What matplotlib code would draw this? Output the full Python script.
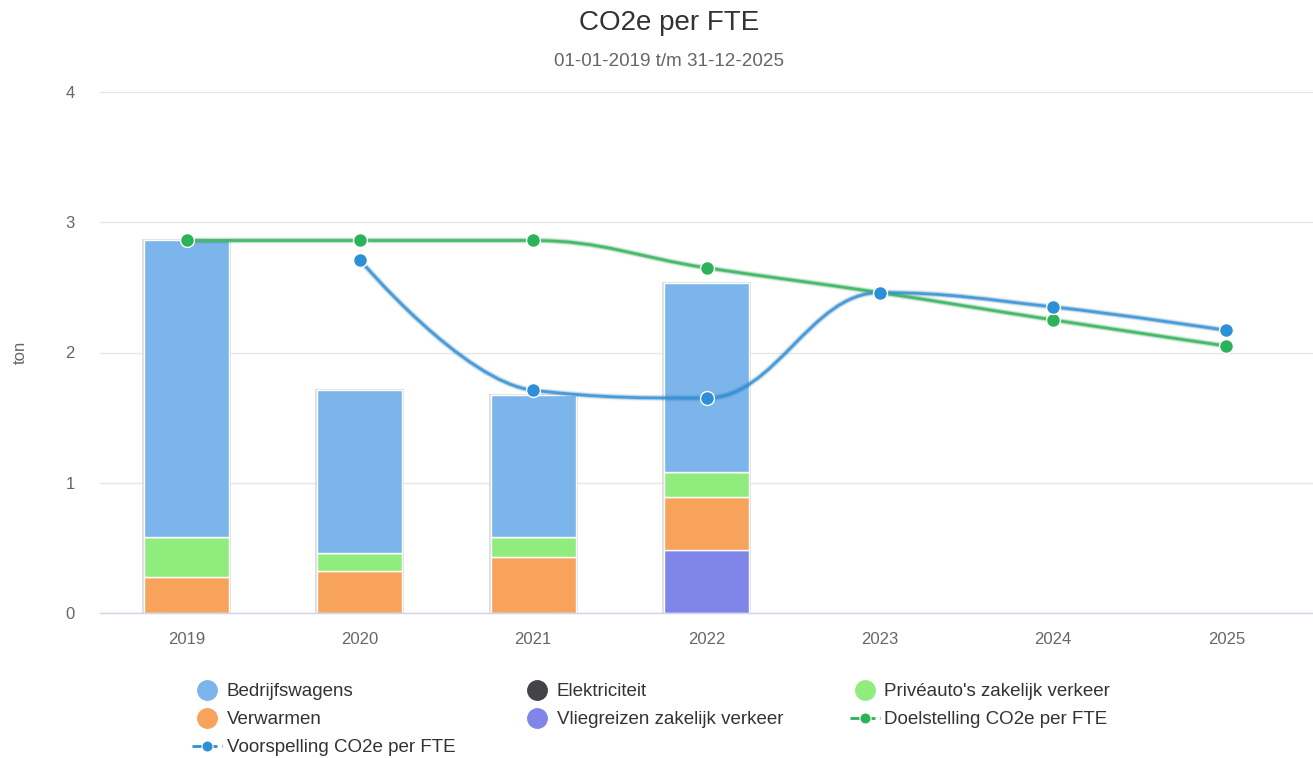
import matplotlib
matplotlib.use("Agg")
import matplotlib.pyplot as plt
import numpy as np
from matplotlib.path import Path
from matplotlib.patches import PathPatch
from matplotlib.lines import Line2D

plt.rcParams['font.family'] = ['Liberation Sans', 'DejaVu Sans']

# ---- data ----
years = ["2019", "2020", "2021", "2022", "2023", "2024", "2025"]
bedrijfswagens = [2.28, 1.25, 1.09, 1.45, 0, 0, 0]
elektriciteit = [0, 0, 0, 0, 0, 0, 0]
priveauto = [0.30, 0.14, 0.15, 0.19, 0, 0, 0]
verwarmen = [0.28, 0.32, 0.43, 0.41, 0, 0, 0]
vliegreizen = [0, 0, 0, 0.48, 0, 0, 0]
doelstelling = [2.86, 2.86, 2.86, 2.65, 2.46, 2.25, 2.05]
voorspelling = [None, 2.71, 1.71, 1.65, 2.46, 2.35, 2.17]

title = "CO2e per FTE"
subtitle = "01-01-2019 t/m 31-12-2025"
ylabel = "ton"

c_bedrijf = "#7cb5ec"
c_elek = "#434348"
c_prive = "#90ed7d"
c_verw = "#f7a35c"
c_vlieg = "#8085e9"
c_doel = "#2bb357"
c_voor = "#2d8fd5"

W, H = 1313, 758
fig = plt.figure(figsize=(W / 100, H / 100), dpi=100)
ax = fig.add_axes([100 / W, 1 - 613 / H, 1213 / W, (613 - 92) / H])

x = np.arange(len(years))
bw = 0.49
# stack order bottom->top: Vliegreizen, Verwarmen, Privé, Elektriciteit, Bedrijfswagens
stack = [(vliegreizen, c_vlieg), (verwarmen, c_verw), (priveauto, c_prive),
         (elektriciteit, c_elek), (bedrijfswagens, c_bedrijf)]
bottom = np.zeros(len(years))
for vals, col in stack:
    v = np.array(vals, dtype=float)
    ax.bar(x, v, bw, bottom=bottom, color=col, edgecolor="white", linewidth=1.0, zorder=2)
    bottom += v
# faint outline around each stack (shadow-like)
for xi, tot in zip(x, bottom):
    if tot > 0:
        ax.bar(xi, tot, bw + 0.012, color="none", edgecolor="#d8d8d8", linewidth=1.2, zorder=1.5)


def spline_path(xs, ys, smoothing=1.5):
    pts = [(a, b) for a, b in zip(xs, ys) if b is not None]
    n = len(pts)
    ctrl = []
    for i, (px, py) in enumerate(pts):
        if 0 < i < n - 1:
            lx, ly = pts[i - 1]
            nx, ny = pts[i + 1]
            d = smoothing + 1
            lcx = (smoothing * px + lx) / d
            lcy = (smoothing * py + ly) / d
            rcx = (smoothing * px + nx) / d
            rcy = (smoothing * py + ny) / d
            corr = 0
            if rcx != lcx:
                corr = ((rcy - lcy) * (rcx - px)) / (rcx - lcx) + py - rcy
            lcy += corr
            rcy += corr
            if lcy > ly and lcy > py:
                lcy = max(ly, py); rcy = 2 * py - lcy
            elif lcy < ly and lcy < py:
                lcy = min(ly, py); rcy = 2 * py - lcy
            if rcy > ny and rcy > py:
                rcy = max(ny, py); lcy = 2 * py - rcy
            elif rcy < ny and rcy < py:
                rcy = min(ny, py); lcy = 2 * py - rcy
            ctrl.append(((lcx, lcy), (rcx, rcy)))
        else:
            ctrl.append(((px, py), (px, py)))
    verts = [pts[0]]
    codes = [Path.MOVETO]
    for i in range(1, n):
        verts += [ctrl[i - 1][1], ctrl[i][0], pts[i]]
        codes += [Path.CURVE4] * 3
    return Path(verts, codes), pts


for series, col in [(doelstelling, c_doel), (voorspelling, c_voor)]:
    path, pts = spline_path(x, series)
    ax.add_patch(PathPatch(path, facecolor="none", edgecolor="black", lw=5, alpha=0.05, zorder=3))
    ax.add_patch(PathPatch(path, facecolor="none", edgecolor=col, lw=3.4, alpha=0.3, zorder=3))
    ax.add_patch(PathPatch(path, facecolor="none", edgecolor=col, lw=2.0, alpha=0.8, zorder=3.1))
    px = [p[0] for p in pts]
    py = [p[1] for p in pts]
    ax.plot(px, py, linestyle="none", marker="o", ms=10, mfc=col, mec="white", mew=1.0, zorder=4)

ax.set_xlim(-0.5, len(years) - 0.5)
ax.set_ylim(0, 4)
ax.set_yticks([0, 1, 2, 3, 4])
ax.set_xticks(x)
ax.set_xticklabels(years)
ax.grid(axis="y", color="#e6e6e6", linewidth=1.0, zorder=0)
ax.set_axisbelow(True)
for s in ["top", "right", "left"]:
    ax.spines[s].set_visible(False)
ax.spines["bottom"].set_color("#ccd6eb")
ax.spines["bottom"].set_linewidth(1.0)
ax.tick_params(axis="x", length=0, pad=14, labelsize=12, labelcolor="#666666")
ax.tick_params(axis="y", length=0, pad=18, labelsize=12, labelcolor="#666666")
ax.set_ylabel(ylabel, fontsize=12, color="#666666")
ax.yaxis.set_label_coords(-(100 - 28) / 1213, 0.5)

fig.text(669 / W, 1 - 23 / H, title, ha="center", va="center", fontsize=20, color="#333333")
fig.text(669 / W, 1 - 61 / H, subtitle, ha="center", va="center", fontsize=13.6, color="#666666")

# legend
def circ(col):
    return Line2D([], [], linestyle="none", marker="o", ms=14, mfc=col, mec=col)

def lin(col):
    return Line2D([], [], linestyle="--", color=col, lw=2, marker="o", ms=8, mfc=col, mec="white", mew=0.8)

handles = [circ(c_bedrijf), circ(c_verw), lin(c_voor),
           circ(c_elek), circ(c_vlieg),
           circ(c_prive), lin(c_doel)]
labels = ["Bedrijfswagens", "Verwarmen", "Voorspelling CO2e per FTE",
          "Elektriciteit", "Vliegreizen zakelijk verkeer",
          "Privéauto's zakelijk verkeer", "Doelstelling CO2e per FTE"]
leg = fig.legend(handles, labels, ncol=3, loc="upper left", bbox_to_anchor=(192 / W, 1 - 683 / H),
                 frameon=False, fontsize=13.5, handlelength=1.6, handletextpad=0.25,
                 columnspacing=3.55, labelspacing=0.58, borderpad=0, borderaxespad=0)
for t in leg.get_texts():
    t.set_color("#333333")

fig.savefig("out.png", dpi=100)
